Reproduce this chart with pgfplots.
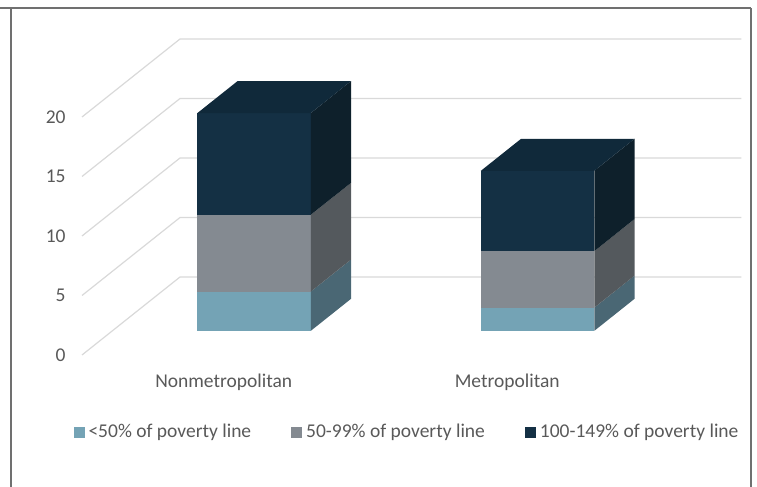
\documentclass[border=0pt]{standalone}
\usepackage{fontspec}
\setmainfont{Carlito}
\usepackage{pgfplots}
\pgfplotsset{compat=1.18}
\definecolor{blueF}{HTML}{74A3B5}
\definecolor{blueS}{HTML}{4A6774}
\definecolor{grayF}{HTML}{848A91}
\definecolor{grayS}{HTML}{54595D}
\definecolor{darkF}{HTML}{143044}
\definecolor{darkS}{HTML}{0E202B}
\definecolor{darkT}{HTML}{10293A}
\definecolor{txt}{HTML}{595959}
\definecolor{gridc}{HTML}{D9D9D9}
\definecolor{framec}{HTML}{707070}
\begin{document}
\begin{tikzpicture}
\useasboundingbox (0,0) rectangle (378.5pt,243.5pt);
\draw[framec, line width=1pt] (0,239.5pt) -- (375.5pt,239.5pt);
\draw[framec, line width=1pt] (5.5pt,0) -- (5.5pt,239.5pt);
\draw[framec, line width=1pt] (375.5pt,0) -- (375.5pt,239.5pt);
\begin{axis}[
  disabledatascaling,
  anchor=origin, at={(41pt,66pt)},
  x={(141.75pt,0pt)}, y={(49pt,39pt)}, z={(0pt,5.95pt)},
  xmin=0, xmax=1.98, ymin=0, ymax=1, zmin=0, zmax=20,
  hide axis, clip=false,
  legend columns=3,
  legend image code/.code={\fill[#1] (0pt,-2.75pt) rectangle (5.5pt,2.75pt);},
  legend style={draw=none, fill=none, at={(0.4944,-0.2437)}, anchor=center,
    font=\fontsize{9.75}{11.7}\selectfont, text=txt,
    /tikz/every odd column/.append style={column sep=0pt},
    /tikz/every even column/.append style={column sep=18pt}},
]
% gridlines: side wall diagonal + back wall horizontal
\addplot3[gridc, line width=0.6pt, forget plot] coordinates {(0,0,0) (0,1,0) (1.98,1,0)};
\addplot3[gridc, line width=0.6pt, forget plot] coordinates {(0,0,5) (0,1,5) (1.98,1,5)};
\addplot3[gridc, line width=0.6pt, forget plot] coordinates {(0,0,10) (0,1,10) (1.98,1,10)};
\addplot3[gridc, line width=0.6pt, forget plot] coordinates {(0,0,15) (0,1,15) (1.98,1,15)};
\addplot3[gridc, line width=0.6pt, forget plot] coordinates {(0,0,20) (0,1,20) (1.98,1,20)};
% Nonmetropolitan: <50% = 3.3, 50-99% = 6.45, 100-149% = 8.55 (cumulative 3.3, 9.75, 18.3)
\addplot3[fill=blueF, draw=none] coordinates {(0.3,0.31,0) (0.7,0.31,0) (0.7,0.31,3.3) (0.3,0.31,3.3)};
\addlegendentry{<50\% of poverty line}
\addplot3[fill=blueS, draw=none, forget plot] coordinates {(0.7,0.31,0) (0.7,0.72,0) (0.7,0.72,3.3) (0.7,0.31,3.3)};
\addplot3[fill=grayF, draw=none] coordinates {(0.3,0.31,3.3) (0.7,0.31,3.3) (0.7,0.31,9.75) (0.3,0.31,9.75)};
\addlegendentry{50-99\% of poverty line}
\addplot3[fill=grayS, draw=none, forget plot] coordinates {(0.7,0.31,3.3) (0.7,0.72,3.3) (0.7,0.72,9.75) (0.7,0.31,9.75)};
\addplot3[fill=darkF, draw=none] coordinates {(0.3,0.31,9.75) (0.7,0.31,9.75) (0.7,0.31,18.3) (0.3,0.31,18.3)};
\addlegendentry{100-149\% of poverty line}
\addplot3[fill=darkS, draw=none, forget plot] coordinates {(0.7,0.31,9.75) (0.7,0.72,9.75) (0.7,0.72,18.3) (0.7,0.31,18.3)};
\addplot3[fill=darkT, draw=none, forget plot] coordinates {(0.3,0.31,18.3) (0.7,0.31,18.3) (0.7,0.72,18.3) (0.3,0.72,18.3)};
% Metropolitan: <50% = 1.95, 50-99% = 4.75, 100-149% = 6.75 (cumulative 1.95, 6.7, 13.45)
\addplot3[fill=blueF, draw=none, forget plot] coordinates {(1.3,0.31,0) (1.7,0.31,0) (1.7,0.31,1.95) (1.3,0.31,1.95)};
\addplot3[fill=blueS, draw=none, forget plot] coordinates {(1.7,0.31,0) (1.7,0.72,0) (1.7,0.72,1.95) (1.7,0.31,1.95)};
\addplot3[fill=grayF, draw=none, forget plot] coordinates {(1.3,0.31,1.95) (1.7,0.31,1.95) (1.7,0.31,6.7) (1.3,0.31,6.7)};
\addplot3[fill=grayS, draw=none, forget plot] coordinates {(1.7,0.31,1.95) (1.7,0.72,1.95) (1.7,0.72,6.7) (1.7,0.31,6.7)};
\addplot3[fill=darkF, draw=none, forget plot] coordinates {(1.3,0.31,6.7) (1.7,0.31,6.7) (1.7,0.31,13.45) (1.3,0.31,13.45)};
\addplot3[fill=darkS, draw=none, forget plot] coordinates {(1.7,0.31,6.7) (1.7,0.72,6.7) (1.7,0.72,13.45) (1.7,0.31,13.45)};
\addplot3[fill=darkT, draw=none, forget plot] coordinates {(1.3,0.31,13.45) (1.7,0.31,13.45) (1.7,0.72,13.45) (1.3,0.72,13.45)};
% tick labels
\foreach \v in {0,5,10,15,20} {
  \edef\tmp{\noexpand\node[anchor=east, text=txt, font=\noexpand\fontsize{9.75}{11.7}\noexpand\selectfont, inner sep=0pt, xshift=-8pt] at (axis cs:0,0,\v) {\v};}
  \tmp
}
% category labels
\node[anchor=base, text=txt, font=\fontsize{9.75}{11.7}\selectfont, inner sep=0pt, yshift=-16.3pt] at (axis cs:0.5,0,0) {Nonmetropolitan};
\node[anchor=base, text=txt, font=\fontsize{9.75}{11.7}\selectfont, inner sep=0pt, yshift=-16.3pt] at (axis cs:1.5,0,0) {Metropolitan};
\end{axis}
\end{tikzpicture}
\end{document}
